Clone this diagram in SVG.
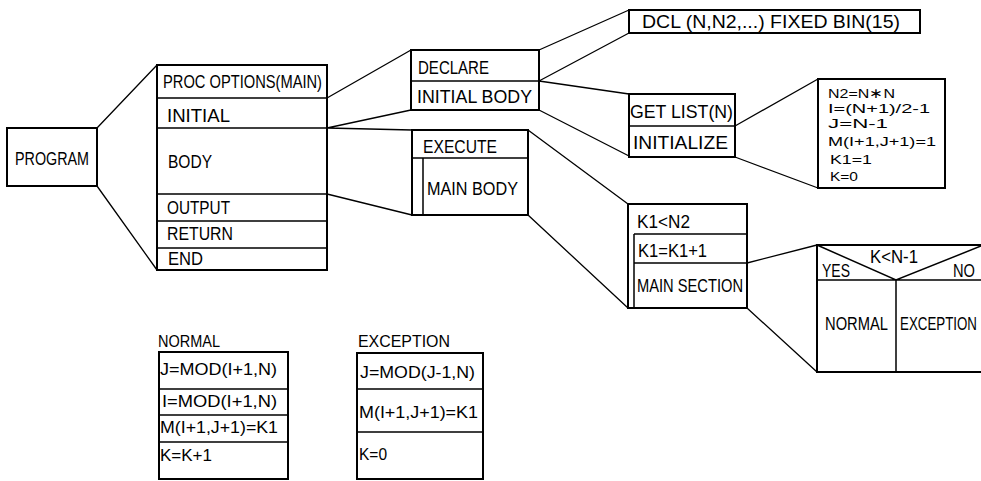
<svg xmlns="http://www.w3.org/2000/svg" width="981" height="481" viewBox="0 0 981 481">
<style>
.b{fill:none;stroke:#000;stroke-width:2}
.d{fill:none;stroke:#000;stroke-width:1.5}
.c{fill:none;stroke:#000;stroke-width:1.3}
text{font-family:"Liberation Sans",Arial,sans-serif;font-size:18px;fill:#000}
.s{font-size:13.5px}
.m{font-size:16px}
</style>
<rect width="981" height="481" fill="#fff"/>
<g id="connectors">
<path class="c" d="M97,128 L157,65 M97,186 L157,270"/>
<path class="c" d="M327,98 L411,50 M327,128 L411,110 M327,128 L412,130 M327,194 L412,215"/>
<path class="c" d="M539,50 L629,10 M539,81 L629,33 M539,81 L629,94 M539,110 L629,156"/>
<path class="c" d="M735,126 L818,79 M735,157 L818,188"/>
<path class="c" d="M528,130 L628,204 M528,215 L628,308"/>
<path class="c" d="M747,263 L817,245 M747,308 L817,372"/>
</g>
<g id="program">
<rect class="b" x="7" y="128" width="90" height="58"/>
<text x="15" y="165" textLength="74" lengthAdjust="spacingAndGlyphs">PROGRAM</text>
</g>
<g id="main">
<rect class="b" x="157" y="65" width="170" height="205"/>
<path class="d" d="M157,98 H327 M157,128 H327 M157,194 H327 M157,221 H327 M157,248 H327"/>
<text x="163" y="88" textLength="159" lengthAdjust="spacingAndGlyphs">PROC OPTIONS(MAIN)</text>
<text x="167" y="122" textLength="63" lengthAdjust="spacingAndGlyphs">INITIAL</text>
<text x="168" y="168" textLength="44" lengthAdjust="spacingAndGlyphs">BODY</text>
<text x="167" y="214" textLength="63" lengthAdjust="spacingAndGlyphs">OUTPUT</text>
<text x="167" y="240" textLength="66" lengthAdjust="spacingAndGlyphs">RETURN</text>
<text x="168" y="265" textLength="35" lengthAdjust="spacingAndGlyphs">END</text>
</g>
<g id="initial">
<rect class="b" x="411" y="50" width="128" height="60"/>
<path class="d" d="M411,81 H539"/>
<text x="418" y="74" textLength="71" lengthAdjust="spacingAndGlyphs">DECLARE</text>
<text x="417" y="103" textLength="115" lengthAdjust="spacingAndGlyphs">INITIAL BODY</text>
</g>
<g id="dcl">
<rect class="b" x="629" y="10" width="291" height="23"/>
<text x="642" y="28" textLength="258" lengthAdjust="spacingAndGlyphs">DCL (N,N2,...) FIXED BIN(15)</text>
</g>
<g id="initbody">
<rect class="b" x="629" y="94" width="106" height="63"/>
<path class="d" d="M629,126 H735"/>
<text x="630" y="118" textLength="103" lengthAdjust="spacingAndGlyphs">GET LIST(N)</text>
<text x="633" y="149" textLength="95" lengthAdjust="spacingAndGlyphs">INITIALIZE</text>
</g>
<g id="initialize">
<rect class="b" x="818" y="79" width="127" height="109"/>
<text class="s" x="828" y="98" textLength="67" lengthAdjust="spacingAndGlyphs">N2=N∗N</text>
<text class="s" x="828" y="113" textLength="102" lengthAdjust="spacingAndGlyphs">I=(N+1)/2-1</text>
<text class="s" x="828" y="128" textLength="60" lengthAdjust="spacingAndGlyphs">J=N-1</text>
<text class="s" x="828" y="146" textLength="108" lengthAdjust="spacingAndGlyphs">M(I+1,J+1)=1</text>
<text class="s" x="830" y="164" textLength="42" lengthAdjust="spacingAndGlyphs">K1=1</text>
<text class="s" x="830" y="181" textLength="28" lengthAdjust="spacingAndGlyphs">K=0</text>
</g>
<g id="execute">
<rect class="b" x="412" y="130" width="116" height="85"/>
<path class="d" d="M412,158 H528 M423,158 V215"/>
<text x="423" y="153" textLength="74" lengthAdjust="spacingAndGlyphs">EXECUTE</text>
<text x="427" y="195" textLength="91" lengthAdjust="spacingAndGlyphs">MAIN BODY</text>
</g>
<g id="loop">
<rect class="b" x="628" y="204" width="119" height="104"/>
<path class="d" d="M634,234 H747 M634,234 V308 M634,263 H747"/>
<text x="637" y="228" textLength="53" lengthAdjust="spacingAndGlyphs">K1&lt;N2</text>
<text x="638" y="257" textLength="69" lengthAdjust="spacingAndGlyphs">K1=K1+1</text>
<text x="637" y="292" textLength="106" lengthAdjust="spacingAndGlyphs">MAIN SECTION</text>
</g>
<g id="decision">
<path class="b" d="M982,245 H817 V372 H982"/>
<path class="d" d="M817,280 H982 M896,280 V372 M817,245 L896,280 L981,246"/>
<text x="870" y="263" textLength="48" lengthAdjust="spacingAndGlyphs">K&lt;N-1</text>
<text x="822" y="277" textLength="28" lengthAdjust="spacingAndGlyphs">YES</text>
<text x="953" y="277" textLength="22" lengthAdjust="spacingAndGlyphs">NO</text>
<text x="825" y="330" textLength="63" lengthAdjust="spacingAndGlyphs">NORMAL</text>
<text transform="translate(900,330) scale(0.74,1)" x="0" y="0" font-size="17">EXCEPTION</text>
</g>
<g id="normal">
<text class="m" x="158" y="347" textLength="62" lengthAdjust="spacingAndGlyphs">NORMAL</text>
<rect class="b" x="159" y="352" width="129" height="127"/>
<path class="d" d="M159,389 H288 M159,415 H288 M159,442 H288"/>
<text class="m" x="160" y="375" textLength="117" lengthAdjust="spacingAndGlyphs">J=MOD(I+1,N)</text>
<text class="m" x="162" y="407" textLength="115" lengthAdjust="spacingAndGlyphs">I=MOD(I+1,N)</text>
<text class="m" x="160" y="433" textLength="118" lengthAdjust="spacingAndGlyphs">M(I+1,J+1)=K1</text>
<text class="m" x="160" y="461" textLength="52" lengthAdjust="spacingAndGlyphs">K=K+1</text>
</g>
<g id="exception">
<text class="m" x="358" y="347" textLength="92" lengthAdjust="spacingAndGlyphs">EXCEPTION</text>
<rect class="b" x="357" y="353" width="126" height="126"/>
<path class="d" d="M357,389 H483 M357,432 H483"/>
<text class="m" x="360" y="378" textLength="115" lengthAdjust="spacingAndGlyphs">J=MOD(J-1,N)</text>
<text class="m" x="359" y="418" textLength="119" lengthAdjust="spacingAndGlyphs">M(I+1,J+1)=K1</text>
<text class="m" x="359" y="460" textLength="28" lengthAdjust="spacingAndGlyphs">K=0</text>
</g>
</svg>
